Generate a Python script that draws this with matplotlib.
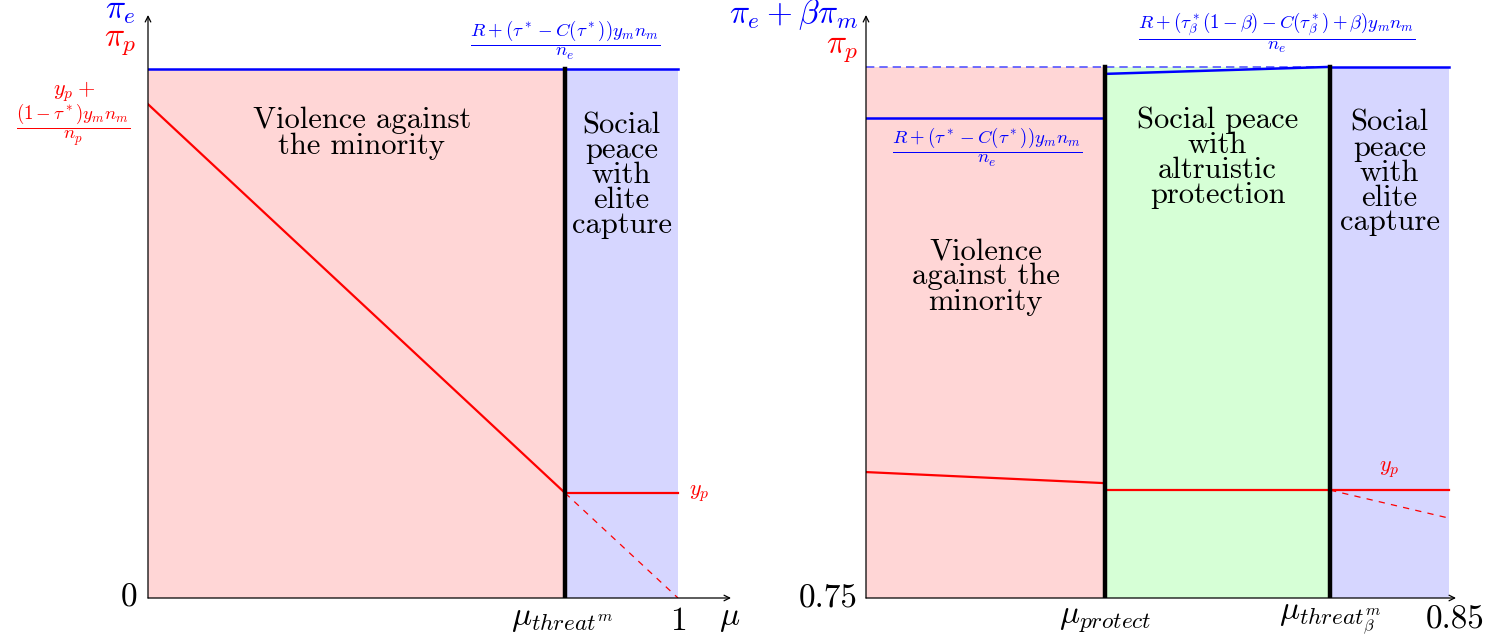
import numpy as np
import matplotlib.pyplot as plt

plt.rcParams['mathtext.fontset'] = 'cm'
plt.rcParams['font.family'] = 'cmr10'
plt.rcParams['axes.formatter.use_mathtext'] = True

# couleurs des zones (rouge!15, vert!15, bleu!15)
c_viol = '#ffd6d6'
c_alt = '#d6ffd6'
c_elite = '#d6d6ff'

# ---- panneau gauche : mu dans [0, 1] ----
mu_threat = 0.787
pi_e_left = 0.907          # gain de l'élite (constant)
pi_p_start = 0.847         # y_p + (1-tau*) y_m n_m / n_p en mu = 0
y_p_left = 0.18            # y_p

# ---- panneau droit : mu dans [0.75, 0.85] ----
mu_lo, mu_hi = 0.75, 0.85
mu_protect = 0.791
mu_threat_b = 0.8296
pi_e_top = 0.911           # niveau capture élite
pi_e_viol = 0.823          # R+(tau*-C(tau*)) y_m n_m / n_e
pi_e_alt = [0.899, 0.911]  # segment protection altruiste
pi_p_viol = [0.216, 0.197]
y_p_right = 0.185
pi_p_dash_end = 0.137

fs_region = 22
fs_axis = 24
fs_frac = 13.5
fs_yp = 16

fig = plt.figure(figsize=(15.09, 6.43), dpi=100)
axL = fig.add_axes([148 / 1509, 45 / 643, 583 / 1509, 583 / 643])
axR = fig.add_axes([866 / 1509, 45 / 643, 590 / 1509, 583 / 643])

for ax in (axL, axR):
    ax.axis('off')

# ================= gauche =================
axL.set_xlim(0, 1.1)
axL.set_ylim(0, 1)
axL.fill_between([0, mu_threat], 0, pi_e_left, color=c_viol, lw=0)
axL.fill_between([mu_threat, 1], 0, pi_e_left, color=c_elite, lw=0)
axL.plot([0, 1], [pi_e_left, pi_e_left], color='blue', lw=1.8)
axL.plot([0, mu_threat], [pi_p_start, y_p_left], color='red', lw=1.6)
axL.plot([mu_threat, 1], [y_p_left, y_p_left], color='red', lw=1.6)
axL.plot([mu_threat, 1], [y_p_left, 0], color='red', lw=0.9, ls=(0, (5, 5)))
axL.plot([mu_threat, mu_threat], [0, pi_e_left], color='black', lw=3.2)

axL.annotate('', xy=(1.1, 0), xytext=(0, 0),
             arrowprops=dict(arrowstyle='->', lw=0.9, shrinkA=0, shrinkB=0))
axL.annotate('', xy=(0, 1.0), xytext=(0, 0),
             arrowprops=dict(arrowstyle='->', lw=0.9, shrinkA=0, shrinkB=0))

axL.text(-0.052, 1.006, r'$\pi_e$', color='blue', fontsize=fs_axis, ha='center', va='center')
axL.text(-0.052, 0.952, r'$\pi_p$', color='red', fontsize=fs_axis, ha='center', va='center')
axL.text(-0.035, 0, '0', fontsize=fs_axis, ha='center', va='center')
axL.text(mu_threat - 0.005, -0.037, r'$\mu_{threat^m}$', fontsize=fs_axis, ha='center', va='center')
axL.text(1.0, -0.04, '1', fontsize=fs_axis, ha='center', va='center')
axL.text(1.098, -0.037, r'$\mu$', fontsize=fs_axis, ha='center', va='center')

axL.text(-0.14, 0.868, r'$y_p+$', color='red', fontsize=fs_yp, ha='center', va='center')
axL.text(-0.14, 0.811, r'$\dfrac{(1-\tau^*)y_m n_m}{n_p}$', color='red',
         fontsize=fs_frac, ha='center', va='center')
axL.text(mu_threat, 0.957, r'$\dfrac{R+(\tau^*-C(\tau^*))y_m n_m}{n_e}$', color='blue',
         fontsize=fs_frac, ha='center', va='center')
axL.text(1.04, y_p_left, r'$y_p$', color='red', fontsize=fs_yp, ha='center', va='center')

axL.text(mu_threat / 2 + 0.01, 0.797, 'Violence against\nthe minority', fontsize=fs_region,
         ha='center', va='center', linespacing=0.95)
axL.text((mu_threat + 1) / 2, 0.725, 'Social\npeace\nwith\nelite\ncapture', fontsize=fs_region,
         ha='center', va='center', linespacing=0.88)

# ================= droite =================
axR.set_xlim(mu_lo, mu_lo + 590 / 583 * (mu_hi - mu_lo))
axR.set_ylim(0, 1)
axR.fill_between([mu_lo, mu_protect], 0, pi_e_top, color=c_viol, lw=0)
axR.fill_between([mu_protect, mu_threat_b], 0, pi_e_top, color=c_alt, lw=0)
axR.fill_between([mu_threat_b, mu_hi], 0, pi_e_top, color=c_elite, lw=0)

axR.plot([mu_lo, mu_threat_b], [pi_e_top, pi_e_top], color='#5555ff', lw=1.2, ls=(0, (5, 3)))
axR.plot([mu_lo, mu_protect], [pi_e_viol, pi_e_viol], color='blue', lw=1.8)
axR.plot([mu_protect, mu_threat_b], pi_e_alt, color='blue', lw=1.8)
axR.plot([mu_threat_b, mu_hi], [pi_e_top, pi_e_top], color='blue', lw=1.8)

axR.plot([mu_lo, mu_protect], pi_p_viol, color='red', lw=1.6)
axR.plot([mu_protect, mu_hi], [y_p_right, y_p_right], color='red', lw=1.6)
axR.plot([mu_threat_b, mu_hi], [y_p_right, pi_p_dash_end], color='red', lw=0.9, ls=(0, (5, 5)))

for m in (mu_protect, mu_threat_b):
    axR.plot([m, m], [0, pi_e_top], color='black', lw=3.2)

axR.annotate('', xy=(axR.get_xlim()[1], 0), xytext=(mu_lo, 0),
             arrowprops=dict(arrowstyle='->', lw=0.9, shrinkA=0, shrinkB=0))
axR.annotate('', xy=(mu_lo, 1.0), xytext=(mu_lo, 0),
             arrowprops=dict(arrowstyle='->', lw=0.9, shrinkA=0, shrinkB=0))

axR.text(0.7487, 1.0, r'$\pi_e + \beta\pi_m$', color='blue', fontsize=fs_axis, ha='right', va='center')
axR.text(0.7487, 0.94, r'$\pi_p$', color='red', fontsize=fs_axis, ha='right', va='center')
axR.text(0.7435, 0, '0.75', fontsize=fs_axis, ha='center', va='center')
axR.text(mu_protect, -0.037, r'$\mu_{protect}$', fontsize=fs_axis, ha='center', va='center')
axR.text(mu_threat_b, -0.037, r'$\mu_{threat^m_\beta}$', fontsize=fs_axis, ha='center', va='center')
axR.text(mu_hi + 0.001, -0.037, '0.85', fontsize=fs_axis, ha='center', va='center')

axR.text((mu_lo + mu_protect) / 2 + 0.0002, 0.772,
         r'$\dfrac{R+(\tau^*-C(\tau^*))y_m n_m}{n_e}$', color='blue',
         fontsize=fs_frac, ha='center', va='center')
axR.text((mu_protect + mu_hi) / 2, 0.97,
         r'$\dfrac{R+(\tau^*_\beta(1-\beta)-C(\tau^*_\beta)+\beta)y_m n_m}{n_e}$', color='blue',
         fontsize=fs_frac, ha='center', va='center')
axR.text(0.8397, 0.22, r'$y_p$', color='red', fontsize=fs_yp, ha='center', va='center')

axR.text((mu_lo + mu_protect) / 2, 0.551, 'Violence\nagainst the\nminority', fontsize=fs_region,
         ha='center', va='center', linespacing=0.9)
axR.text((mu_protect + mu_threat_b) / 2, 0.755, 'Social peace\nwith\naltruistic\nprotection',
         fontsize=fs_region, ha='center', va='center', linespacing=0.88)
axR.text((mu_threat_b + mu_hi) / 2, 0.729, 'Social\npeace\nwith\nelite\ncapture', fontsize=fs_region,
         ha='center', va='center', linespacing=0.88)

fig.savefig('out.png', dpi=100)
